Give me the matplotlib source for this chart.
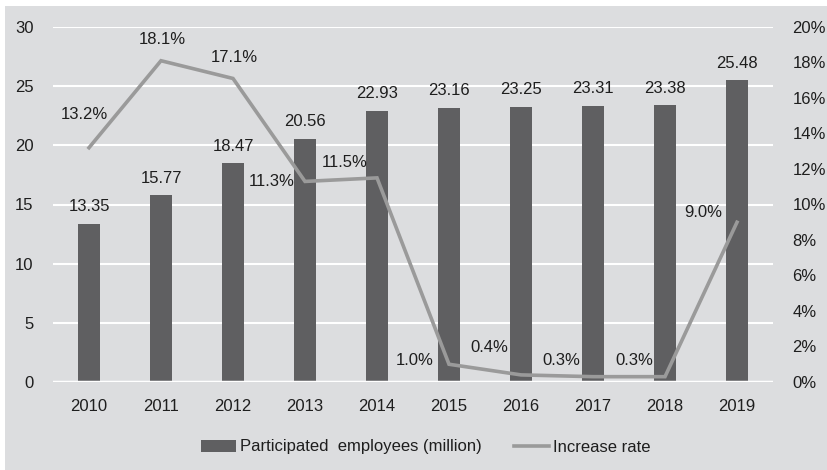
import matplotlib
matplotlib.use("Agg")
import matplotlib.pyplot as plt
from matplotlib.patches import Rectangle
from matplotlib.ticker import FuncFormatter

years = ["2010", "2011", "2012", "2013", "2014", "2015", "2016", "2017", "2018", "2019"]
employees = [13.35, 15.77, 18.47, 20.56, 22.93, 23.16, 23.25, 23.31, 23.38, 25.48]
increase_rate = [13.2, 18.1, 17.1, 11.3, 11.5, 1.0, 0.4, 0.3, 0.3, 9.0]

# label offsets (points) for the rate annotations
rate_offsets = [(-3, 24), (1, 15), (1, 15), (-24, 0), (-23, 11),
                (-25, 3), (-23, 20), (-23, 12), (-22, 12), (-24, 7)]

BG = "#dcdddf"
BAR = "#5f5f61"
LINE = "#9a9a9a"
TXT = "#1e1e1e"
FS = 12

plt.rcParams["font.family"] = ["Liberation Sans", "DejaVu Sans"]
plt.rcParams["font.size"] = FS

fig = plt.figure(figsize=(8.27, 4.70), dpi=100, facecolor="white")
fig.patches.append(Rectangle((5 / 827, 0), 1, 1 - 6 / 470, transform=fig.transFigure,
                             facecolor=BG, edgecolor="none", zorder=-10))

ax = fig.add_axes([53 / 827, 1 - 382 / 470, 720 / 827, 355 / 470])
ax.patch.set_alpha(0)

x = range(len(years))
bars = ax.bar(x, employees, width=0.31, color=BAR, zorder=3,
              label="Participated  employees (million)")
for xi, v in zip(x, employees):
    ax.annotate(f"{v:.2f}", (xi, v), xytext=(0, 7), textcoords="offset points",
                ha="center", va="bottom", color=TXT, fontsize=FS)

ax.set_xlim(-0.5, len(years) - 0.5)
ax.set_ylim(0, 30)
ax.set_yticks(range(0, 31, 5))
ax.set_xticks(list(x))
ax.set_xticklabels(years)
ax.grid(axis="y", color="white", linewidth=1.5, zorder=0)
ax.axhline(0, color="white", linewidth=2.5, zorder=4)
for s in ax.spines.values():
    s.set_visible(False)
ax.tick_params(length=0, colors=TXT, labelsize=FS)
ax.tick_params(axis="y", pad=14)
ax.tick_params(axis="x", pad=12)

ax2 = ax.twinx()
ax2.set_ylim(0, 20)
ax2.set_yticks(range(0, 21, 2))
ax2.yaxis.set_major_formatter(FuncFormatter(lambda v, _: f"{v:.0f}%"))
line, = ax2.plot(list(x), increase_rate, color=LINE, linewidth=2.6, zorder=5,
                 label="Increase rate", solid_joinstyle="miter")
for xi, v, off in zip(x, increase_rate, rate_offsets):
    ax2.annotate(f"{v:.1f}%", (xi, v), xytext=off, textcoords="offset points",
                 ha="center", va="center", color=TXT, fontsize=FS)
for s in ax2.spines.values():
    s.set_visible(False)
ax2.tick_params(length=0, colors=TXT, labelsize=FS, pad=14)

fig.legend([bars, line], [bars.get_label(), line.get_label()],
           loc="center", bbox_to_anchor=(0.515, 1 - 447 / 470), ncol=2,
           frameon=False, handlelength=2.1, handletextpad=0.25, columnspacing=1.9,
           fontsize=FS, labelcolor=TXT)

fig.savefig("out.png", dpi=100, facecolor="white")
